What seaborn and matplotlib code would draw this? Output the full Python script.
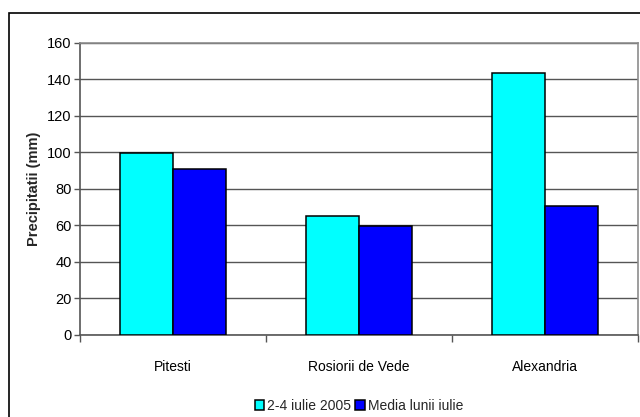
import matplotlib
matplotlib.use("Agg")
import matplotlib.pyplot as plt
from matplotlib.patches import Rectangle
from matplotlib.ticker import FixedLocator
import pandas as pd
import seaborn as sns

# Precipitation data (mm)
statii = ["Pitesti", "Rosiorii de Vede", "Alexandria"]
ploi_2_4_iulie_2005 = [99.5, 65, 143.5]
media_lunii_iulie = [91, 59.5, 70.5]
serii = ["2-4 iulie 2005", "Media lunii iulie"]
culori = ["#00FFFF", "#0000FF"]
y_ticks = [0, 20, 40, 60, 80, 100, 120, 140, 160]

df = pd.DataFrame({
    "Statie": statii * 2,
    "Precipitatii": ploi_2_4_iulie_2005 + media_lunii_iulie,
    "Serie": [serii[0]] * len(statii) + [serii[1]] * len(statii),
})

sns.set_theme(style="white")
plt.rcParams["font.family"] = ["Liberation Sans", "DejaVu Sans"]

fig = plt.figure(figsize=(6.4, 4.17), dpi=100)
ax = fig.add_axes([80 / 640, 1 - 335 / 417, (637.7 - 80) / 640, (335 - 42.7) / 417])

sns.barplot(data=df, x="Statie", y="Precipitatii", hue="Serie", order=statii,
            hue_order=serii, palette=culori, width=0.57, gap=0,
            edgecolor="black", linewidth=1.1, saturation=1, ax=ax, zorder=3)

ax.set_xlim(-0.5, 2.5)
ax.set_ylim(0, 160)
ax.set_yticks(y_ticks)
ax.yaxis.grid(True, color="#555555", linewidth=1.0, zorder=0)
ax.set_axisbelow(True)

for s in ["left", "right", "top", "bottom"]:
    ax.spines[s].set_visible(True)
    ax.spines[s].set_color("#8c8c8c")
    ax.spines[s].set_linewidth(1.2)
ax.spines["left"].set_color("#555555")
ax.spines["bottom"].set_color("#555555")

ax.tick_params(axis="y", which="major", direction="out", length=4, width=1,
               color="#555555", left=True, labelsize=10.5, pad=2, labelcolor="black")
ax.tick_params(axis="x", which="major", length=0, labelsize=10, pad=18, labelcolor="black")
ax.xaxis.set_minor_locator(FixedLocator([-0.5, 0.5, 1.5, 2.5]))
ax.tick_params(axis="x", which="minor", direction="out", length=5, width=1,
               color="#555555", bottom=True)

ax.set_xlabel("")
ax.set_ylabel("Precipitatii (mm)", fontsize=10.5, fontweight="bold", labelpad=4)

leg = ax.legend(loc="upper center", bbox_to_anchor=(0.5, -0.195), ncol=2, frameon=False,
                fontsize=10, handlelength=0.7, handleheight=0.7, handletextpad=0.2,
                columnspacing=0.3, borderpad=0)

# Chart area border
fig.patches.append(Rectangle((8.5 / 640, -0.05), 1.1, 1 - 13 / 417 + 0.05,
                             transform=fig.transFigure, fill=False,
                             edgecolor="black", linewidth=1.2, clip_on=False))

fig.savefig("out.png", dpi=100)
